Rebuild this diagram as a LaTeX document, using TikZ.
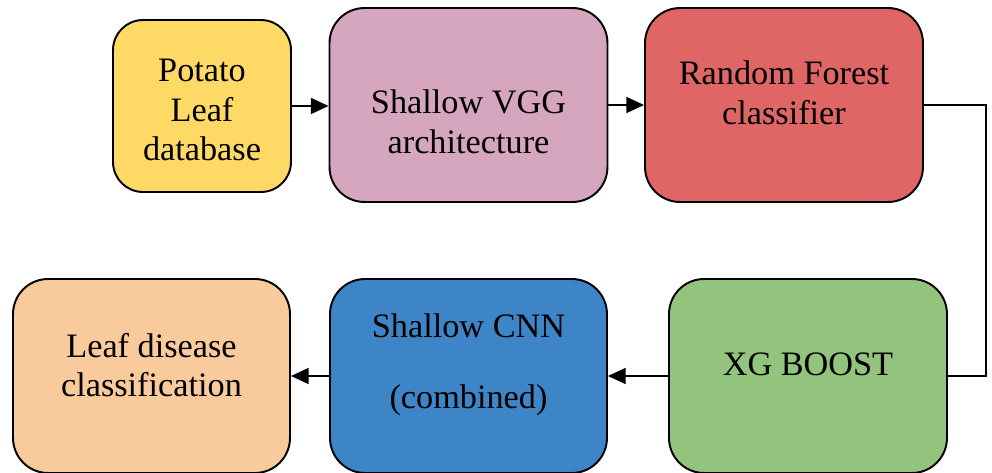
\documentclass[tikz,border=0pt]{standalone}
\usepackage{fontspec}
\setmainfont{Liberation Serif}
\usetikzlibrary{arrows.meta}
\definecolor{dbyellow}{HTML}{FFD966}
\definecolor{vggpink}{HTML}{D5A6BD}
\definecolor{forestred}{HTML}{E06666}
\definecolor{boostgreen}{HTML}{93C47D}
\definecolor{cnnblue}{HTML}{3D85C6}
\definecolor{resultpeach}{HTML}{F9CB9C}

\begin{document}
\begin{tikzpicture}[x=0.02cm,y=-0.02cm,
    blockbox/.style={draw,line width=1.1pt,rounded corners=0.7cm,inner sep=0pt,minimum height=3.88cm,minimum width=5.56cm},
    blocktext/.style={align=center,font=\fontsize{19.5}{22.5}\selectfont},
    flowarrow/.style={line width=1.1pt,-{Triangle[length=10pt,width=9pt]}}]
    \useasboundingbox (0,0) rectangle (992,473);
    % top row
    \node[blockbox,fill=dbyellow,minimum width=3.56cm,minimum height=3.44cm,rounded corners=0.6cm] (database) at (202,106) {};
    \node[blockbox,fill=vggpink] (vgg) at (468.5,105) {};
    \node[blockbox,fill=forestred] (forest) at (784,105) {};
    % bottom row
    \node[blockbox,fill=boostgreen] (xgboost) at (808,376) {};
    \node[blockbox,fill=cnnblue,minimum width=5.54cm] (cnn) at (468.5,376) {};
    \node[blockbox,fill=resultpeach,minimum width=5.54cm] (result) at (151.5,376) {};
    % texts
    \node[blocktext] (databasetext) at (202,110) {Potato\\Leaf\\database};
    \node[blocktext] (vggtext) at (468.5,122) {Shallow VGG\\architecture};
    \node[blocktext] (foresttext) at (784,93) {Random Forest\\classifier};
    \node[blocktext] (xgboosttext) at (808,364) {XG BOOST};
    \node[blocktext] (cnntext) at (468.5,365) {Shallow CNN\\[18pt](combined)};
    \node[blocktext] (resulttext) at (151.5,365) {Leaf disease\\classification};
    % connectors
    \draw[flowarrow] (database.east) -- (vgg.west |- database.east);
    \draw[flowarrow] (vgg.east) -- (forest.west);
    \coordinate (turn) at (986,105);
    \draw[line width=1.1pt] (forest.east) -- (turn) |- (xgboost.east);
    \draw[flowarrow] (xgboost.west) -- (cnn.east);
    \draw[flowarrow] (cnn.west) -- (result.east);
\end{tikzpicture}
\end{document}
